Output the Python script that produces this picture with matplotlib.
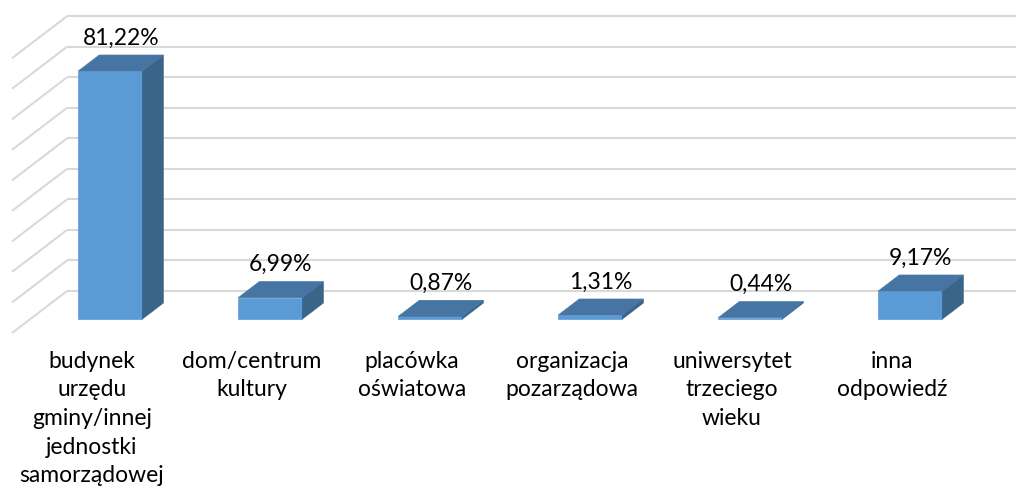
import matplotlib
matplotlib.use("Agg")
import matplotlib.pyplot as plt
from matplotlib.patches import Polygon

categories = ["budynek\nurzędu\ngminy/innej\njednostki\nsamorządowej",
              "dom/centrum\nkultury",
              "placówka\noświatowa",
              "organizacja\npozarządowa",
              "uniwersytet\ntrzeciego\nwieku",
              "inna\nodpowiedź"]
values = [81.22, 6.99, 0.87, 1.31, 0.44, 9.17]
value_labels = ["81,22%", "6,99%", "0,87%", "1,31%", "0,44%", "9,17%"]
grid_values = [0, 10, 20, 30, 40, 50, 60, 70, 80, 90]

# oblique projection parameters (data units)
DX = 0.344      # x shift for full depth (category units)
DY = 13.76      # y shift for full depth (percent units)
D_FRONT = 1 / 3
D_BACK = 0.714
BAR_W = 0.4

C_FRONT = "#5B9BD5"
C_TOP = "#4775A3"
C_SIDE = "#3A6589"
C_GRID = "#D9D9D9"

plt.rcParams['font.family'] = ['Lato', 'DejaVu Sans']

fig = plt.figure(figsize=(10.16, 4.90), dpi=100)
ax = fig.add_axes([0, 0, 1, 1])
ax.set_xlim(-0.575, 5.775)
ax.set_ylim(-51.42, 109.07)
ax.axis('off')

def proj(x, v, d):
    return (x + DX * d, v + DY * d)

# gridlines: side wall diagonal + back wall horizontal
x_wall = -0.5
for g in grid_values:
    x0, y0 = proj(x_wall, g, 0)
    x1, y1 = proj(x_wall, g, 1)
    ax.plot([x0, x1], [y0, y1], color=C_GRID, lw=1.5, zorder=1, solid_capstyle='butt')
    ax.plot([x1, 6.5], [y1, y1], color=C_GRID, lw=1.5, zorder=1, solid_capstyle='butt')

for i, v in enumerate(values):
    xl = i - BAR_W / 2
    xr = i + BAR_W / 2
    fbl = proj(xl, 0, D_FRONT)
    fbr = proj(xr, 0, D_FRONT)
    ftl = proj(xl, v, D_FRONT)
    ftr = proj(xr, v, D_FRONT)
    btl = proj(xl, v, D_BACK)
    btr = proj(xr, v, D_BACK)
    bbr = proj(xr, 0, D_BACK)
    ax.add_patch(Polygon([fbl, fbr, ftr, ftl], closed=True, facecolor=C_FRONT,
                         edgecolor=C_FRONT, lw=0.5, zorder=3))
    ax.add_patch(Polygon([fbr, bbr, btr, ftr], closed=True, facecolor=C_SIDE,
                         edgecolor=C_SIDE, lw=0.5, zorder=3))
    ax.add_patch(Polygon([ftl, ftr, btr, btl], closed=True, facecolor=C_TOP,
                         edgecolor=C_TOP, lw=0.5, zorder=4))
    lx, ly = proj(i, v, D_BACK)
    lx = proj(i, v, (D_FRONT + D_BACK) / 2)[0]
    ax.annotate(value_labels[i], (lx, ly), xytext=(0, 7.5), textcoords='offset points',
                ha='center', va='baseline', fontsize=16.5, color='#000000', zorder=5)

for i, c in enumerate(categories):
    ax.text(i, -5.8, c, ha='center', va='top', fontsize=16.5, color='#000000',
            linespacing=1.45, zorder=5)

fig.savefig("out.png", dpi=100, facecolor='white')
